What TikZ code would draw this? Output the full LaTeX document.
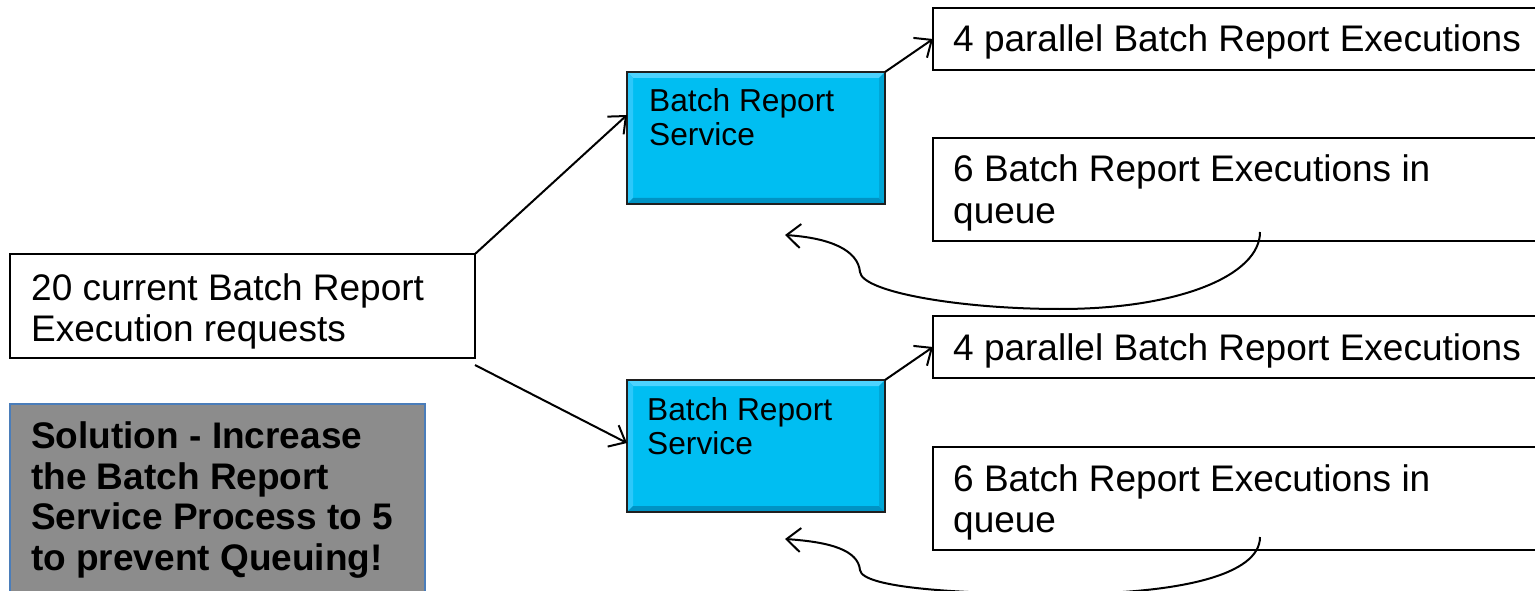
\documentclass[tikz,border=0pt]{standalone}
\usepackage{fontspec}
\setmainfont{Liberation Sans}
\usetikzlibrary{arrows.meta,calc}
\definecolor{svcmain}{HTML}{00BEF2}
\definecolor{svclight}{HTML}{4DD3FF}
\definecolor{svcleft}{HTML}{2CC8FA}
\definecolor{svcdark}{HTML}{0093C4}
\definecolor{svcright}{HTML}{00A6D6}
\definecolor{solfill}{HTML}{8C8C8C}
\definecolor{solline}{HTML}{4A7DBA}
\tikzset{
  plainbox/.style={draw=black, line width=1.5pt, fill=white, inner sep=0pt, outer sep=0pt},
  svcbox/.style={fill=svcmain, inner sep=0pt, outer sep=0pt, minimum width=258pt, minimum height=132pt},
  solbox/.style={draw=solline, line width=2pt, fill=solfill, inner sep=0pt, outer sep=0pt},
  bodytext/.style={inner sep=0pt, anchor=base west, font=\fontsize{37}{41}\selectfont},
  svctext/.style={inner sep=0pt, anchor=base west, font=\fontsize{31.7}{34}\selectfont},
  soltext/.style={inner sep=0pt, anchor=base west, font=\fontsize{37}{41}\selectfont\bfseries},
  conn/.style={line width=2pt, -{Straight Barb[length=14pt,width=24pt,line width=2pt]}},
}
\begin{document}
\begin{tikzpicture}[x=1pt,y=-1pt]
\useasboundingbox (0,0) rectangle (1535,591);
\clip (0,0) rectangle (1535,591);
\fill[white] (0,0) rectangle (1535,591);

% left request box
\node[plainbox, minimum width=465pt, minimum height=104pt] (req) at (242.5,306) {};
\node[bodytext] (reqt1) at (31,300) {20 current Batch Report};
\node[bodytext] (reqt2) at (31,341) {Execution requests};

% solution box
\node[solbox, minimum width=415pt, minimum height=196pt] (sol) at (217.5,502) {};
\node[soltext] (solt1) at (31,448) {Solution - Increase};
\node[soltext] (solt2) at (31,489) {the Batch Report};
\node[soltext] (solt3) at (31,529.5) {Service Process to 5};
\node[soltext] (solt4) at (31,570) {to prevent Queuing!};

% service boxes
\node[svcbox] (svc1) at (756,138) {};
\node[svcbox] (svc2) at (756,446) {};
\foreach \n in {svc1,svc2}{
  \fill[svclight] (\n.north west) -- (\n.north east) -- ($(\n.north east)+(-6,6)$) -- ($(\n.north west)+(6,6)$) -- cycle;
  \fill[svcleft] (\n.north west) -- ($(\n.north west)+(6,6)$) -- ($(\n.south west)+(6,-6)$) -- (\n.south west) -- cycle;
  \fill[svcdark] (\n.south west) -- (\n.south east) -- ($(\n.south east)+(-6,-6)$) -- ($(\n.south west)+(6,-6)$) -- cycle;
  \fill[svcright] (\n.north east) -- ($(\n.north east)+(-6,6)$) -- ($(\n.south east)+(-6,-6)$) -- (\n.south east) -- cycle;
  \draw[line width=2pt, black!88] (\n.north west) rectangle (\n.south east);
}
\node[svctext] (s1t1) at (649,112) {Batch Report};
\node[svctext] (s1t2) at (649,146) {Service};
\node[svctext] (s2t1) at (647,420) {Batch Report};
\node[svctext] (s2t2) at (647,454) {Service};

% right boxes
\node[plainbox, minimum width=627pt, minimum height=62pt] (par1) at (1246.5,39) {};
\node[bodytext] (p1t) at (953,52) {4 parallel Batch Report Executions};
\node[plainbox, minimum width=627pt, minimum height=103pt] (que1) at (1246.5,189.5) {};
\node[bodytext] (q1t1) at (953,182) {6 Batch Report Executions in};
\node[bodytext] (q1t2) at (953,223) {queue};
\node[plainbox, minimum width=627pt, minimum height=62pt] (par2) at (1246.5,347) {};
\node[bodytext] (p2t) at (953,360) {4 parallel Batch Report Executions};
\node[plainbox, minimum width=627pt, minimum height=103pt] (que2) at (1246.5,498.5) {};
\node[bodytext] (q2t1) at (953,491) {6 Batch Report Executions in};
\node[bodytext] (q2t2) at (953,532) {queue};

% connectors
\draw[conn] (req.north east) -- ($(svc1.north west)+(0,43)$);
\draw[conn] ($(req.south east)+(0,7)$) -- ($(svc2.north west)+(0,63)$);
\draw[conn] (svc1.north east) -- (par1.west);
\draw[conn] (svc2.north east) -- (par2.west);

\coordinate (c1s) at ($(que1.south west)+(327,-9)$);
\coordinate (c1e) at ($(svc1.south west)+(158,31)$);
\draw[conn] (c1s) .. controls (1260,275) and (1180,309) .. (1060,309)
  .. controls (960,309) and (862,292) .. (860,272)
  .. controls (858,250) and (830,238) .. (c1e);
\coordinate (c2s) at ($(que2.south west)+(327,-13)$);
\coordinate (c2e) at ($(svc2.south west)+(158,27)$);
\draw[conn] (c2s) .. controls (1260,575) and (1180,594) .. (1060,594)
  .. controls (960,594) and (862,588) .. (860,570)
  .. controls (858,550) and (830,542) .. (c2e);
\end{tikzpicture}
\end{document}
